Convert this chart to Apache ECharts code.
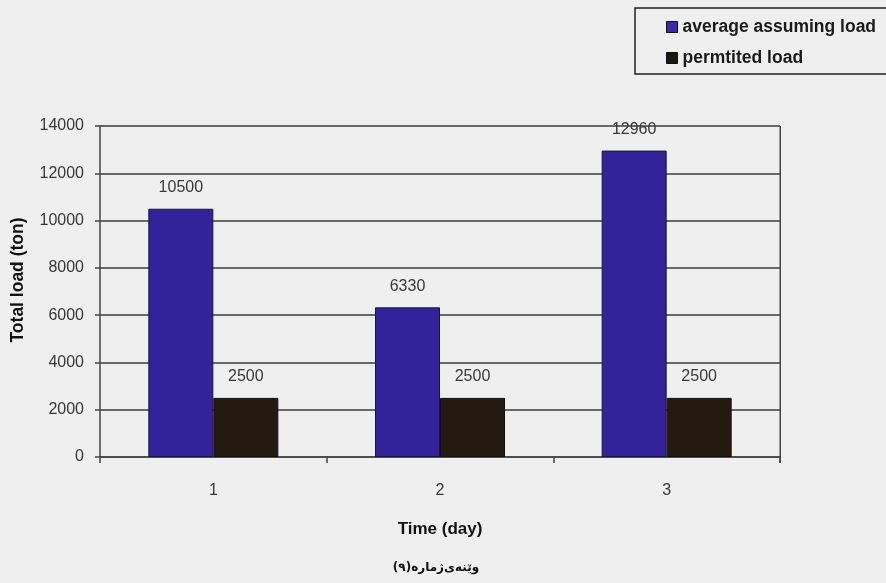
<!DOCTYPE html>
<html><head><meta charset="utf-8">
<script src="https://cdn.jsdelivr.net/npm/echarts@6/dist/echarts.min.js"></script>
<style>html,body{margin:0;padding:0;background:#efefef}#c{width:886px;height:583px}</style>
</head><body><div id="c"></div>
<script>
const categories = ['1', '2', '3'];
const averageLoad = [10500, 6330, 12960];
const permittedLoad = [2500, 2500, 2500];
const seriesNames = ['average assuming load', 'permtited load'];
const yTicks = { min: 0, max: 14000, interval: 2000 };
const yTitle = 'Total load (ton)';
const xTitle = 'Time (day)';
const caption = 'وێنەی\u200Cژمارە(٩)';

const FONT = '"Liberation Sans", Arial, sans-serif';
const chart = echarts.init(document.getElementById('c'));
const labelStyle = { show: true, position: 'top', distance: 13, color: '#383838', fontFamily: FONT, fontSize: 16 };
chart.setOption({
  backgroundColor: '#efefef',
  animation: false,
  grid: { left: 100, right: 106, top: 126, bottom: 126, containLabel: false },
  legend: {
    orient: 'vertical', left: 635, top: 8,
    padding: [10, 60, 7, 31],
    backgroundColor: '#efefef', borderColor: '#222', borderWidth: 1.5,
    itemWidth: 11, itemHeight: 11, itemGap: 13,
    textStyle: { fontFamily: FONT, fontWeight: 'bold', fontSize: 17.5, color: '#1a1a1a' },
    data: [
      { name: seriesNames[0], icon: 'rect', itemStyle: { color: '#3a2aa8', borderColor: '#111', borderWidth: 1 } },
      { name: seriesNames[1], icon: 'rect', itemStyle: { color: '#1a1a10', borderColor: '#111', borderWidth: 1 } }
    ]
  },
  xAxis: {
    type: 'category', data: categories,
    name: xTitle, nameLocation: 'middle', nameGap: 64,
    nameTextStyle: { fontFamily: FONT, fontWeight: 'bold', fontSize: 17, color: '#111' },
    axisLine: { lineStyle: { color: '#444', width: 1.5 } },
    axisTick: { show: true, length: 6, lineStyle: { color: '#444', width: 1.5 } },
    axisLabel: { color: '#383838', fontFamily: FONT, fontSize: 16, margin: 26 }
  },
  yAxis: {
    type: 'value', min: yTicks.min, max: yTicks.max, interval: yTicks.interval,
    axisLine: { show: true, lineStyle: { color: '#444', width: 1.5 } },
    axisTick: { show: true, length: 5, lineStyle: { color: '#444', width: 1.5 } },
    axisLabel: { color: '#383838', fontFamily: FONT, fontSize: 16, margin: 16, formatter: v => String(v) },
    splitLine: { lineStyle: { color: '#3c3c3c', width: 1.5 } }
  },
  graphic: [
    { type: 'rect', shape: { x: 779.5, y: 126, width: 1.5, height: 337 }, style: { fill: '#444' } },
    { type: 'text', x: 18, y: 280, rotation: Math.PI / 2,
      style: { text: yTitle, align: 'center', verticalAlign: 'middle', font: 'bold 17.5px ' + FONT, fill: '#111' } },
    { type: 'text', x: 436, y: 568,
      style: { text: caption, align: 'center', verticalAlign: 'middle', font: 'bold 12px "DejaVu Sans", "Noto Sans"', fill: '#111' } }
  ],
  series: [
    { name: seriesNames[0], type: 'bar', data: averageLoad, barWidth: 65, barGap: '0%',
      itemStyle: { color: '#33229a', borderColor: '#1a1440', borderWidth: 1 }, label: labelStyle },
    { name: seriesNames[1], type: 'bar', data: permittedLoad, barWidth: 65,
      itemStyle: { color: '#241a10', borderColor: '#111', borderWidth: 1 }, label: labelStyle }
  ]
});
</script></body></html>
